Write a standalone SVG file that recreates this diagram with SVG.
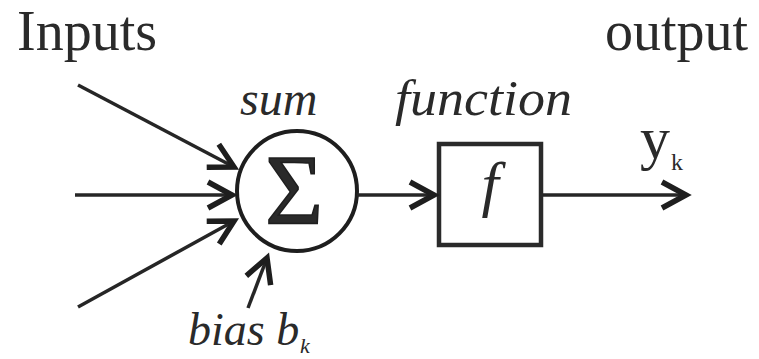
<svg xmlns="http://www.w3.org/2000/svg" width="759" height="359" viewBox="0 0 759 359">
<style>
.t{font-family:"Liberation Serif","Times New Roman",serif;fill:#2a2a2a}
.i{font-style:italic}
.ln{stroke:#262626;stroke-width:3.5;fill:none}
</style>
<defs>
<marker id="ah" markerUnits="userSpaceOnUse" markerWidth="40" markerHeight="40" refX="28" refY="16" orient="auto" overflow="visible">
<path d="M4,3 L28,16 L4,29" fill="none" stroke="#1e1e1e" stroke-width="5.5" stroke-linejoin="miter"/>
</marker>
</defs>
<rect width="759" height="359" fill="#fff"/>
<text class="t" x="17" y="50" font-size="56">Inputs</text>
<text class="t" x="605" y="50" font-size="56">output</text>
<g id="sum">
<circle cx="297" cy="191" r="60" fill="none" stroke="#1e1e1e" stroke-width="4"/>
<text class="t" x="294" y="223" font-size="100" text-anchor="middle" stroke="#1e1e1e" stroke-width="1.5">Σ</text>
<text class="t i" x="240" y="115" font-size="48">sum</text>
</g>
<g id="function">
<rect x="439" y="144" width="102" height="101" fill="none" stroke="#2a2a2a" stroke-width="4.5"/>
<text class="t i" x="490" y="205" font-size="62" text-anchor="middle">f</text>
<text class="t i" x="395" y="115" font-size="50" textLength="177" lengthAdjust="spacingAndGlyphs">function</text>
</g>
<g id="bias">
<text class="t i" x="188" y="345" font-size="46">bias b</text>
<text class="t i" x="300" y="353" font-size="22">k</text>
</g>
<g id="output">
<text class="t" x="640" y="158" font-size="60">y</text>
<text class="t" x="671" y="170" font-size="24">k</text>
</g>
<g id="connectors">
<line class="ln" x1="78" y1="85" x2="234" y2="167" marker-end="url(#ah)"/>
<line class="ln" x1="75" y1="195" x2="232" y2="195" marker-end="url(#ah)"/>
<line class="ln" x1="78" y1="307" x2="234" y2="221" marker-end="url(#ah)"/>
<line class="ln" x1="248" y1="308" x2="267" y2="258" marker-end="url(#ah)"/>
<line class="ln" x1="357" y1="195" x2="434" y2="195" marker-end="url(#ah)"/>
<line class="ln" x1="543" y1="195" x2="686" y2="195" marker-end="url(#ah)"/>
</g>
</svg>
